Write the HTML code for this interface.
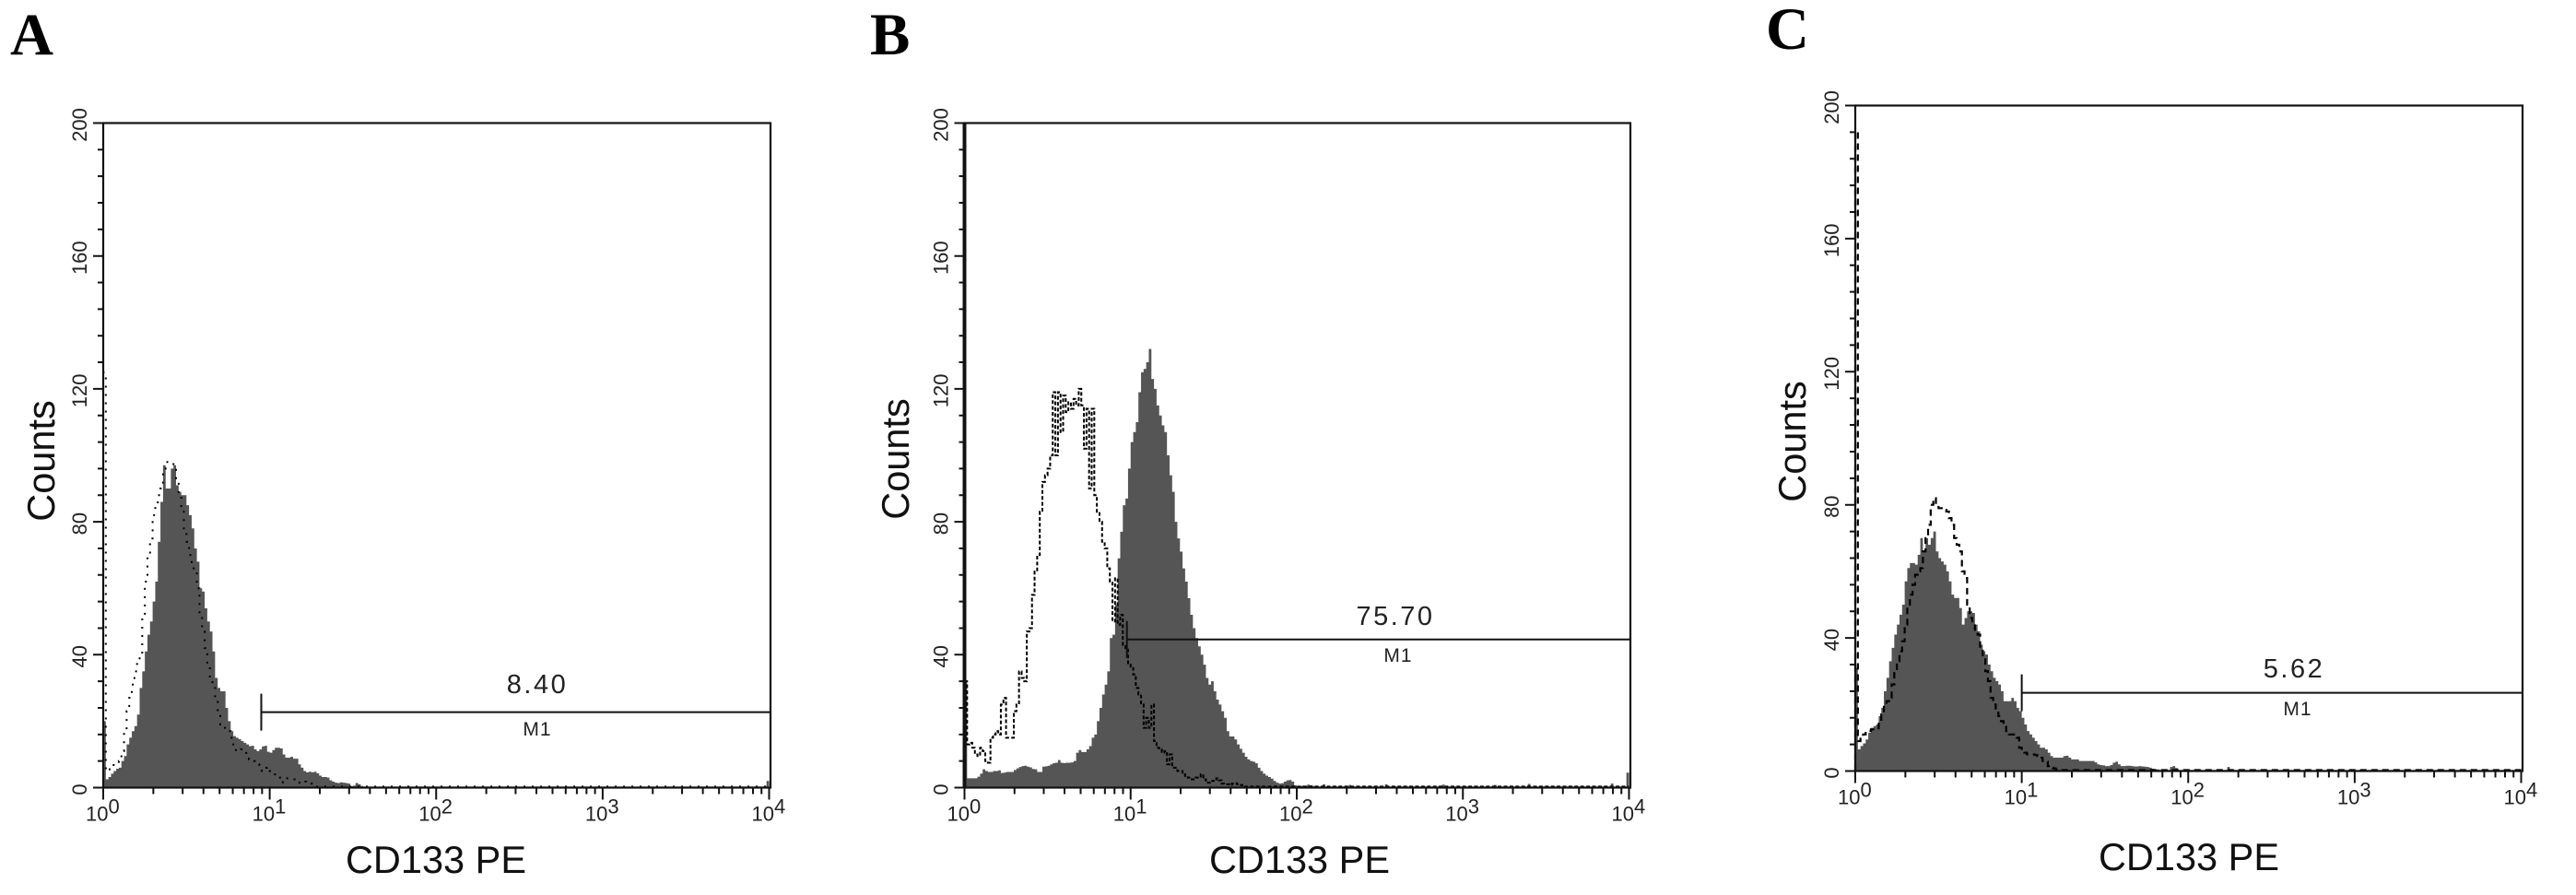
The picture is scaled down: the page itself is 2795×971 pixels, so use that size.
<!DOCTYPE html>
<html lang="en">
<head>
<meta charset="utf-8">
<title>CD133 PE flow cytometry histograms</title>
<style>
  html, body { margin: 0; padding: 0; background: #fff; }
  svg { display: block; }
  text { font-family: "Liberation Sans", Arial, sans-serif; fill: #111; }
  .letter { font-family: "Liberation Serif", serif; font-weight: bold; font-size: 65px; fill: #000; }
  .axis-title { font-size: 41.5px; }
  .tick { font-size: 22px; fill: #222; }
  .gate-value { font-size: 29px; letter-spacing: 2.5px; text-anchor: middle; fill: #222; }
  .gate-name { font-size: 21px; letter-spacing: 1px; text-anchor: middle; fill: #222; }
</style>
</head>
<body>
<svg id="chart" xmlns="http://www.w3.org/2000/svg" width="2795" height="971" viewBox="0 0 2795 971">
  <rect x="0" y="0" width="2795" height="971" fill="#fff"/>

  <g id="panel-a">
    <text class="letter" x="11" y="59">A</text>
    <text class="axis-title" transform="translate(59 500) rotate(-90)" text-anchor="middle">Counts</text>
    <text class="axis-title" x="473" y="947" text-anchor="middle">CD133 PE</text>
    <text class="gate-value" x="583" y="752">8.40</text>
    <text class="gate-name" x="583" y="805" dy="-7">M1</text>
  </g>

  <g id="panel-b">
    <text class="letter" x="944" y="59">B</text>
    <text class="axis-title" transform="translate(986 498) rotate(-90)" text-anchor="middle">Counts</text>
    <text class="axis-title" x="1410" y="947" text-anchor="middle">CD133 PE</text>
    <text class="gate-value" x="1514" y="678">75.70</text>
    <text class="gate-name" x="1517" y="718">M1</text>
  </g>

  <g id="panel-c">
    <text class="letter" x="1916" y="53">C</text>
    <text class="axis-title" transform="translate(1959 479) rotate(-90)" text-anchor="middle">Counts</text>
    <text class="axis-title" x="2375" y="944" text-anchor="middle">CD133 PE</text>
    <text class="gate-value" x="2489" y="735">5.62</text>
    <text class="gate-name" x="2493" y="776">M1</text>
  </g>
</svg>

<script>
// ---- chart data ----
const yTickValues = [0, 40, 80, 120, 160, 200];
const yMinorStep = 8;
const xDecades = [0, 1, 2, 3, 4];
const xMinorMultiples = [2, 3, 4, 5, 6, 7, 8, 9];
const binsPerDecade = 64;
const totalBins = 256;

const panelAFillCounts = [20,2.5,3.2,4.2,5,5.7,6,8,9.5,13,15,17,18.5,22,30,35,41,46,50,56,62,74,86,97,90,90,96,97,91,89,88,88,85,82,78,72,68,60,59,54,50,47,41,33,30,29,29,24,20,17,15.5,15,14.6,14,13.5,13,12.5,12.6,11.5,11,11.5,12.4,12.6,10.8,10.5,11.3,12,12,11.8,10,9,9,9.3,8.7,8.7,7,6,5,4.6,4.8,4.6,4.8,4.3,3.6,3.2,3.2,3,2.2,1.8,1.5,1.4,1.6,1.5,1.4,1.2,0.5,0.6,1.4,1,0.5];
const panelAOverlayCounts = [125,5,5.5,6.5,6.8,7,8,11,17,23,27,31,35,38,40,51,62,69,75,82,85,88,90,96,98,98,98,97,92,88,84,78,74,70,66,66,60,52,47,42,37,33,30,27,22,19,18,18,17,15,12.5,11,11,11.5,11,10,8.5,8.3,8,7,6,5,6,6.2,5,5,4,3,1.5,2,2.8,2.8,2.8,2.5,1.5,1.5,2,1.8,1.5,1.3,1.2,1];
const panelATailBins = [255];
const panelATailCounts = [2];
const panelAGateStart = 8.9;
const panelAGateLevel = 22.7;

const panelBFillCounts = [32,2.8,2.8,2.8,2.8,3.3,4.2,5.5,5,4.7,4.7,5,5,5.2,4.4,4.5,4.7,4.7,4.7,5.3,5.8,6.2,6.5,6.6,6.3,6.1,5.6,5.5,4.7,4.7,6.3,6.4,6.6,7,7.4,7.5,8.3,7.5,7.4,7.5,7.5,7.6,8,10.5,11.3,10.7,10.7,11.5,12.5,15,16,20,24,28,31,35,45,46,55,69,77,85,87,96,104,107,110,119,125,126,128,132,123,120,115,112,109,107,100,94,89,80,75,71,66,62,57,52,48,45,42.5,40,37,33,31,32,29,26.5,25,23,21,17,15.4,15.4,14.5,13,11.7,10.5,9.3,8.5,8,7.8,7.3,6,5,4.2,3.6,3.2,2.7,2,1.5,1.2,1.3,1.8,2.2,2.3,1.8,0.7,0.4,0.5,0.6,0.5,0.9,0.7,0.5,0.4];
const panelBOverlayCounts = [32,13,13.5,12,10,9.5,12,11,8,7.5,15,16,17,16,25,27,15,15,15,23,25,35,33,32,47,48,58,65,70,83,92,94,96,100,119,100,119,107,118,113,116,114,117,115,120,115,102,114,90,114,88,83,80,74,72,66,62,50,63,49,52,43,42,37,36,34,30,28,25,18,21,18,25,14,12,11.5,10.5,11,7,10,6,6,5,5,4,3.5,3,2.5,2.5,3,3,4,2.5,1.5,1.5,2,2.5,2.8,2.2,1.2,1,1,0.8,1.2,1.3,1,0.8,0.7];
const panelBTailBins = [138,148,162,184,204,217,249,255];
const panelBTailCounts = [1,0.8,1,0.9,0.8,1.1,1.2,4.5];
const panelBGateStart = 9.5;
const panelBGateLevel = 44.6;

const panelCFillCounts = [31,6.5,7.5,8.3,9.5,11.5,13,13.5,14,16.5,19,24,28,33,37,41,44,47,50,57,61,62.5,62.5,62,65,70,66,70,68,70,72,66,64,63,62,60,57,53,52,52,49,44,46,48,48,47.5,44,42,38,36,35,32,30,28,27,26,24,21,21,21,22,21,19,18,16,14,12,11,10,9,8,7,7,6.5,5.5,4.5,4,4,4,4,4.5,4.6,4,3.5,3.5,3.5,3,3,3,3,3,3,2.6,2,1.8,1.7,1.5,1.5,1.8,2.5,2.8,2,1.5,1.5,1.6,1.6,1.5,1.4,1.4,1.5,1.4,1.3,1.2,1,0.7,0.5,0.5];
const panelCOverlayCounts = [192,9,10.5,11,12,12,12.5,12.5,12.5,15,17,20,21,22,26,30,33,36,39,44,50,53,56,59,60,61,66,70,74,80,82,80,79,79,78.5,78,76,74,70,68,66,60,58,50,46,45,42,41,37,34,30,27,22,20,18,16.5,15,14.5,12,11,11,10.5,10,7,6,5.5,5,5,5,4.8,4.5,4,3,2.8,1.5,1,0.8,0.5];
const panelCTailBins = [121,122,123,143];
const panelCTailCounts = [1.2,1.5,0.9,1.2];
const panelCGateStart = 10;
const panelCGateLevel = 23.5;

// ---- layout (separate from data) ----
const layouts = [
  { id: 'panel-a', left: 112, right: 836, top: 133.5, bottom: 854.5, axisWidth: 2.2,
    fillCounts: panelAFillCounts, overlayCounts: panelAOverlayCounts, tailBins: panelATailBins, tailCounts: panelATailCounts,
    gateStart: panelAGateStart, gateLevel: panelAGateLevel,
    overlayWidth: 2, overlayDash: '2 7' },
  { id: 'panel-b', left: 1046.5, right: 1769, top: 133.5, bottom: 854.5, axisWidth: 2.2, leftAxisWidth: 4,
    fillCounts: panelBFillCounts, overlayCounts: panelBOverlayCounts, tailBins: panelBTailBins, tailCounts: panelBTailCounts,
    gateStart: panelBGateStart, gateLevel: panelBGateLevel,
    overlayWidth: 2, overlayDash: '4 2.4' },
  { id: 'panel-c', left: 2013, right: 2737, top: 114.5, bottom: 836.5, axisWidth: 2.2,
    fillCounts: panelCFillCounts, overlayCounts: panelCOverlayCounts, tailBins: panelCTailBins, tailCounts: panelCTailCounts,
    gateStart: panelCGateStart, gateLevel: panelCGateLevel,
    overlayWidth: 2.2, overlayDash: '7 5' }
];

const SVG_NS = 'http://www.w3.org/2000/svg';

function mk(tag, parent) {
  const el = document.createElementNS(SVG_NS, tag);
  parent.appendChild(el);
  return el;
}

function stepPath(counts, xOfBin, yOfCount, closeBase) {
  let d = 'M' + xOfBin(0).toFixed(2) + ' ' + yOfCount(0).toFixed(2);
  for (let i = 0; i < counts.length; i++) {
    const y = yOfCount(counts[i]).toFixed(2);
    d += 'L' + xOfBin(i).toFixed(2) + ' ' + y + 'L' + xOfBin(i + 1).toFixed(2) + ' ' + y;
  }
  if (closeBase) d += 'L' + xOfBin(counts.length).toFixed(2) + ' ' + yOfCount(0).toFixed(2) + 'Z';
  return d;
}

function withTail(counts, tailBins, tailCounts) {
  const full = [];
  for (let i = 0; i < totalBins; i++) full.push(i < counts.length ? counts[i] : 0.3);
  tailBins.forEach(function (b, k) { full[b] = tailCounts[k]; });
  return full;
}

layouts.forEach(function (p) {
  const g = document.getElementById(p.id);
  const decadePx = (p.right - p.left - 1.5) / 4;
  const yOfCount = function (c) { return p.bottom - (c / 200) * (p.bottom - p.top); };
  const xOfLog = function (l) { return p.left + l * decadePx; };
  const xOfBin = function (i) { return xOfLog(i / binsPerDecade); };

  // filled histogram
  const fill = mk('path', g);
  
  
  fill.setAttribute('d', stepPath(withTail(p.fillCounts, p.tailBins, p.tailCounts), xOfBin, yOfCount, true));
  fill.setAttribute('fill', '#555555');

  // overlay isotype control histogram
  const overlay = mk('path', g);
  
  
  overlay.setAttribute('d', stepPath(withTail(p.overlayCounts, [], []), xOfBin, yOfCount, false));
  overlay.setAttribute('fill', 'none');
  overlay.setAttribute('stroke', '#000');
  overlay.setAttribute('stroke-width', p.overlayWidth);
  overlay.setAttribute('stroke-dasharray', p.overlayDash);

  // plot frame
  const frame = mk('rect', g);
  
  
  frame.setAttribute('x', p.left);
  frame.setAttribute('y', p.top);
  frame.setAttribute('width', p.right - p.left);
  frame.setAttribute('height', p.bottom - p.top);
  frame.setAttribute('fill', 'none');
  frame.setAttribute('stroke', '#111');
  frame.setAttribute('stroke-width', p.axisWidth);

  if (p.leftAxisWidth) {
    const thick = mk('line', g);
    
    
    thick.setAttribute('x1', p.left);
    thick.setAttribute('x2', p.left);
    thick.setAttribute('y1', p.top);
    thick.setAttribute('y2', p.bottom);
    thick.setAttribute('stroke', '#111');
    thick.setAttribute('stroke-width', p.leftAxisWidth);
  }

  // y ticks
  let yMajor = '';
  let yMinor = '';
  const yMax = yTickValues[yTickValues.length - 1];
  for (let v = 0; v <= yMax; v += yMinorStep) {
    const y = yOfCount(v).toFixed(2);
    if (yTickValues.indexOf(v) >= 0) yMajor += 'M' + (p.left - 11) + ' ' + y + 'H' + p.left;
    else yMinor += 'M' + (p.left - 6) + ' ' + y + 'H' + p.left;
  }
  const yTicksMajor = mk('path', g);
  
  
  yTicksMajor.setAttribute('d', yMajor);
  yTicksMajor.setAttribute('stroke', '#111');
  yTicksMajor.setAttribute('stroke-width', 2);
  const yTicksMinor = mk('path', g);
  
  
  yTicksMinor.setAttribute('d', yMinor);
  yTicksMinor.setAttribute('stroke', '#111');
  yTicksMinor.setAttribute('stroke-width', 2);

  yTickValues.forEach(function (v) {
    const label = mk('text', g);
    
    
    label.setAttribute('class', 'tick');
    label.setAttribute('text-anchor', 'middle');
    label.setAttribute('transform', 'translate(' + (p.left - 18) + ' ' + (yOfCount(v) + 2).toFixed(2) + ') rotate(-90)');
    label.textContent = String(v);
  });

  // x ticks
  let xMajor = '';
  let xMinor = '';
  xDecades.forEach(function (d, k) {
    const x = xOfLog(d).toFixed(2);
    xMajor += 'M' + x + ' ' + p.bottom + 'V' + (p.bottom + 13);
    if (k < xDecades.length - 1) {
      xMinorMultiples.forEach(function (m) {
        const mx = xOfLog(d + Math.log10(m)).toFixed(2);
        xMinor += 'M' + mx + ' ' + p.bottom + 'V' + (p.bottom + 7);
      });
    }
  });
  const xTicksMajor = mk('path', g);
  
  
  xTicksMajor.setAttribute('d', xMajor);
  xTicksMajor.setAttribute('stroke', '#111');
  xTicksMajor.setAttribute('stroke-width', 2);
  const xTicksMinor = mk('path', g);
  
  
  xTicksMinor.setAttribute('d', xMinor);
  xTicksMinor.setAttribute('stroke', '#111');
  xTicksMinor.setAttribute('stroke-width', 2);

  xDecades.forEach(function (d) {
    const x = xOfLog(d);
    const label = mk('text', g);
    
    
    label.setAttribute('class', 'tick');
    label.setAttribute('x', (x - 19).toFixed(2));
    label.setAttribute('y', p.bottom + 36);
    const base = mk('tspan', label);
    base.textContent = '10';
    const sup = mk('tspan', label);
    sup.setAttribute('dy', '-8');
    sup.textContent = String(d);
  });

  // M1 marker gate
  const gx = xOfLog(Math.log10(p.gateStart));
  const gy = yOfCount(p.gateLevel);
  const gate = mk('path', g);
  
  
  gate.setAttribute('d', 'M' + gx.toFixed(2) + ' ' + (gy - 20).toFixed(2) + 'V' + (gy + 20).toFixed(2) + 'M' + gx.toFixed(2) + ' ' + gy.toFixed(2) + 'H' + p.right);
  gate.setAttribute('fill', 'none');
  gate.setAttribute('stroke', '#111');
  gate.setAttribute('stroke-width', 2);
});
</script>
</body>
</html>
